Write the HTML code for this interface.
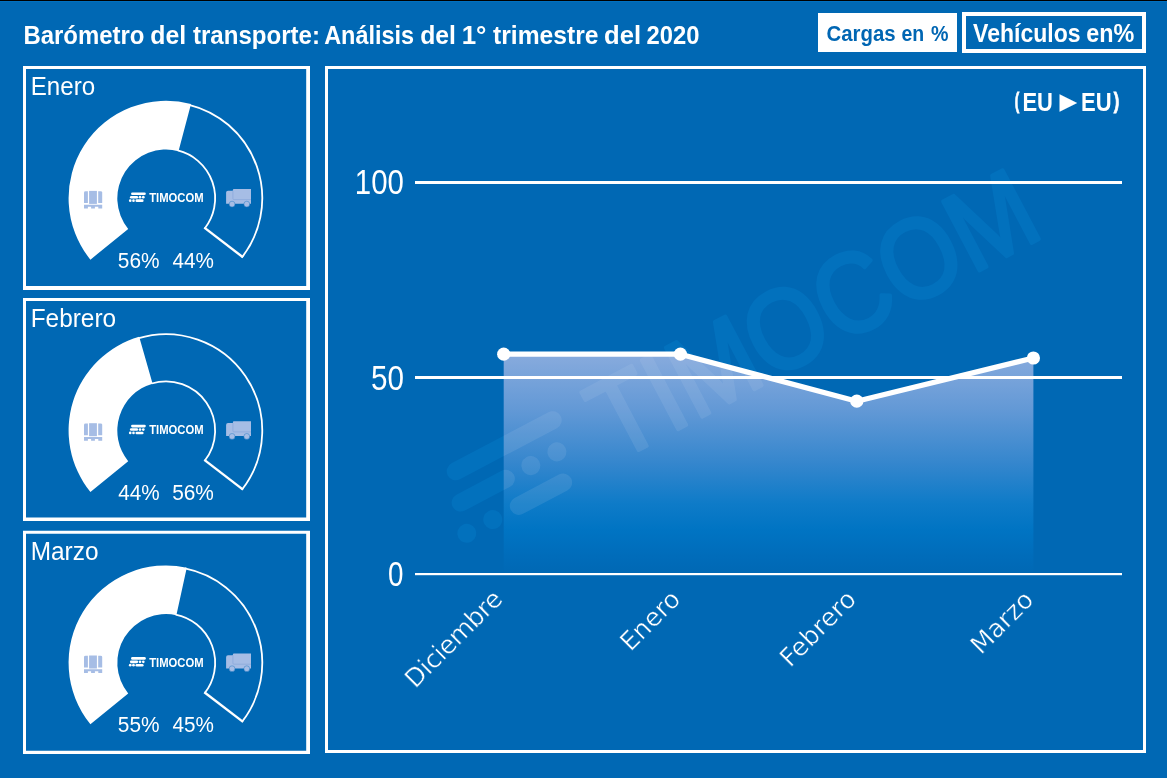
<!DOCTYPE html>
<html lang="es">
<head>
<meta charset="utf-8">
<title>Barómetro del transporte</title>
<style>
html,body{margin:0;padding:0;background:#0068b4;}
body{width:1167px;height:778px;overflow:hidden;}
svg{display:block;font-family:'Liberation Sans', sans-serif;}
</style>
</head>
<body>
<svg width="1167" height="778" viewBox="0 0 1167 778">
<defs>
<linearGradient id="ag" gradientUnits="userSpaceOnUse" x1="0" y1="354" x2="0" y2="574">
<stop offset="0" stop-color="#88abdd"/>
<stop offset="0.25" stop-color="#6399d6"/>
<stop offset="0.5" stop-color="#3486cd"/>
<stop offset="0.68" stop-color="#0e7bc8"/>
<stop offset="0.8" stop-color="#0074c3"/>
<stop offset="0.92" stop-color="#006cba"/>
<stop offset="1" stop-color="#0068b4"/>
</linearGradient>
<pattern id="wp" patternUnits="userSpaceOnUse" x="0" y="0" width="1167" height="778" patternTransform="rotate(27.8) translate(-455.7 -471.3)">
<rect width="1167" height="778" fill="#10b0ff"/>
<path d="M503.7 354.2L680.4 354.2L856.8 401.2L1033.4 358V574H503.7Z" fill="#c4d7ef"/>
</pattern>
<clipPath id="ac"><path d="M503.7 354.2L680.4 354.2L856.8 401.2L1033.4 358V574H503.7Z"/></clipPath>
</defs>
<rect width="1167" height="778" fill="#0068b4"/>
<rect width="1167" height="1" fill="#000"/>
<rect y="1" width="1167" height="1" fill="#0070c0"/>

<g id="header">
<text font-size="26" font-weight="bold" fill="#fff"><tspan x="23.4" y="43.9" textLength="121.08" lengthAdjust="spacingAndGlyphs">Barómetro</tspan> <tspan x="150.32" y="43.9" textLength="35.84" lengthAdjust="spacingAndGlyphs">del</tspan> <tspan x="193.0" y="43.9" textLength="127.0" lengthAdjust="spacingAndGlyphs">transporte:</tspan> <tspan x="324.13" y="43.9" textLength="90.02" lengthAdjust="spacingAndGlyphs">Análisis</tspan> <tspan x="420.13" y="43.9" textLength="35.73" lengthAdjust="spacingAndGlyphs">del</tspan> <tspan x="461.68" y="43.9" textLength="24.77" lengthAdjust="spacingAndGlyphs">1°</tspan> <tspan x="493.0" y="43.9" textLength="105.51" lengthAdjust="spacingAndGlyphs">trimestre</tspan> <tspan x="604.0" y="43.9" textLength="37.01" lengthAdjust="spacingAndGlyphs">del</tspan> <tspan x="646.46" y="43.9" textLength="52.91" lengthAdjust="spacingAndGlyphs">2020</tspan></text>
<rect x="818" y="13" width="139" height="39" fill="#fff"/>
<text font-size="22.5" font-weight="bold" fill="#0066b3"><tspan x="826.56" y="40.8" textLength="69.06" lengthAdjust="spacingAndGlyphs">Cargas</tspan> <tspan x="901.39" y="40.8" textLength="22.75" lengthAdjust="spacingAndGlyphs">en</tspan> <tspan x="930.99" y="40.8" textLength="17.49" lengthAdjust="spacingAndGlyphs">%</tspan></text>
<path fill="#fff" fill-rule="evenodd" d="M962 12H1146V53H962ZM966 16V49H1142V16Z"/>
<text font-size="26" font-weight="bold" fill="#fff"><tspan x="973.1" y="41.9" textLength="107.53" lengthAdjust="spacingAndGlyphs">Vehículos</tspan> <tspan x="1086.27" y="41.9" textLength="48.06" lengthAdjust="spacingAndGlyphs">en%</tspan></text>
</g>
<g id="panel-enero" class="panel">
<path fill="#fff" fill-rule="evenodd" d="M23 66H310V290H23ZM26 69V286.1H306.2V69Z"/>
<text font-size="26" font-weight="normal" fill="#fff"><tspan x="30.72" y="94.9" textLength="64.36" lengthAdjust="spacingAndGlyphs">Enero</tspan></text>
<g fill="none" stroke="#fff" stroke-width="1.8"><path d="M189.08 104.76A96.25 96.25 0 0 1 241.85 257.46"/><path d="M177.79 150.48A49.150000000000006 49.150000000000006 0 0 1 204.73 228.46"/><path stroke-width="2.4" d="M243.03 257.31L204.32 227.60"/></g>
<path d="M90.41 259.63A97.4 97.4 0 0 1 191.01 104.06L178.50 151.13A48.7 48.7 0 0 0 128.21 228.91Z" fill="#fff"/>
<g transform="translate(84 190.9)" fill="#a6bde5"><path d="M0 1.6Q0 0.3 1.6 0.3H3.9V12H0Z"/><rect x="5.1" y="0" width="7.8" height="13"/><path d="M14.2 0.3H16.6Q18.2 0.3 18.2 1.6V12H14.2Z"/><path d="M0 13.8H18.2V17.5H14.3V15.8H10.9V17.5H7.1V15.8H3.9V17.5H0Z"/></g>
<g transform="translate(226.1 189.0)"><path fill="#a6bde5" d="M6.8 1Q6.8 0 7.8 0H24.9V14.8H0V3.6Q0 1.7 1.9 1.7H6.8Z"/><path fill="none" stroke="#8fabdc" stroke-width="0.9" d="M6.8 1.7V9.6Q6.8 10.6 7.8 10.6H24.9"/><circle cx="5.95" cy="15.1" r="2.9" fill="#a6bde5" stroke="#2f7fc4" stroke-width="0.5"/><circle cx="20.7" cy="15.1" r="2.9" fill="#a6bde5" stroke="#2f7fc4" stroke-width="0.5"/></g>
<g transform="translate(132.35 193.81) scale(0.111 0.1138)" fill="#fff"><rect x="-11.5" y="-11.5" width="132.6" height="23.0" rx="11.5" stroke="none"/><rect x="-21.7" y="18.5" width="74.0" height="23.0" rx="11.5" stroke="none"/><circle cx="69.1" cy="30" r="12" stroke="none"/><circle cx="98.6" cy="30" r="12" stroke="none"/><circle cx="-19.1" cy="60" r="12" stroke="none"/><circle cx="10.3" cy="60" r="12" stroke="none"/><rect x="28.200000000000003" y="48.5" width="73.1" height="23.0" rx="11.5" stroke="none"/></g>
<text font-size="13.5" font-weight="bold" fill="#fff"><tspan x="149.2" y="201.9" textLength="54.48" lengthAdjust="spacingAndGlyphs">TIMOCOM</tspan></text>
<text font-size="21.8" font-weight="normal" fill="#fff"><tspan x="117.85" y="267.8" textLength="41.77" lengthAdjust="spacingAndGlyphs">56%</tspan> <tspan x="172.48" y="267.8" textLength="41.44" lengthAdjust="spacingAndGlyphs">44%</tspan></text>
</g>
<g id="panel-febrero" class="panel">
<path fill="#fff" fill-rule="evenodd" d="M23 298H310V521H23ZM26 301V517.6H306.2V301Z"/>
<text font-size="26" font-weight="normal" fill="#fff"><tspan x="30.69" y="326.9" textLength="85.39" lengthAdjust="spacingAndGlyphs">Febrero</tspan></text>
<g fill="none" stroke="#fff" stroke-width="1.8"><path d="M137.90 338.44A96.25 96.25 0 0 1 241.85 489.76"/><path d="M151.65 383.49A49.150000000000006 49.150000000000006 0 0 1 204.73 460.76"/><path stroke-width="2.4" d="M243.03 489.61L204.32 459.90"/></g>
<path d="M90.41 491.93A97.4 97.4 0 0 1 139.19 336.86L152.60 383.68A48.7 48.7 0 0 0 128.21 461.21Z" fill="#fff"/>
<g transform="translate(84 423.2)" fill="#a6bde5"><path d="M0 1.6Q0 0.3 1.6 0.3H3.9V12H0Z"/><rect x="5.1" y="0" width="7.8" height="13"/><path d="M14.2 0.3H16.6Q18.2 0.3 18.2 1.6V12H14.2Z"/><path d="M0 13.8H18.2V17.5H14.3V15.8H10.9V17.5H7.1V15.8H3.9V17.5H0Z"/></g>
<g transform="translate(226.1 421.3)"><path fill="#a6bde5" d="M6.8 1Q6.8 0 7.8 0H24.9V14.8H0V3.6Q0 1.7 1.9 1.7H6.8Z"/><path fill="none" stroke="#8fabdc" stroke-width="0.9" d="M6.8 1.7V9.6Q6.8 10.6 7.8 10.6H24.9"/><circle cx="5.95" cy="15.1" r="2.9" fill="#a6bde5" stroke="#2f7fc4" stroke-width="0.5"/><circle cx="20.7" cy="15.1" r="2.9" fill="#a6bde5" stroke="#2f7fc4" stroke-width="0.5"/></g>
<g transform="translate(132.35 426.11) scale(0.111 0.1138)" fill="#fff"><rect x="-11.5" y="-11.5" width="132.6" height="23.0" rx="11.5" stroke="none"/><rect x="-21.7" y="18.5" width="74.0" height="23.0" rx="11.5" stroke="none"/><circle cx="69.1" cy="30" r="12" stroke="none"/><circle cx="98.6" cy="30" r="12" stroke="none"/><circle cx="-19.1" cy="60" r="12" stroke="none"/><circle cx="10.3" cy="60" r="12" stroke="none"/><rect x="28.200000000000003" y="48.5" width="73.1" height="23.0" rx="11.5" stroke="none"/></g>
<text font-size="13.5" font-weight="bold" fill="#fff"><tspan x="149.2" y="434.2" textLength="54.48" lengthAdjust="spacingAndGlyphs">TIMOCOM</tspan></text>
<text font-size="21.8" font-weight="normal" fill="#fff"><tspan x="118.18" y="500.1" textLength="41.44" lengthAdjust="spacingAndGlyphs">44%</tspan> <tspan x="172.15" y="500.1" textLength="41.77" lengthAdjust="spacingAndGlyphs">56%</tspan></text>
</g>
<g id="panel-marzo" class="panel">
<path fill="#fff" fill-rule="evenodd" d="M23 530.7H310V754H23ZM26 533.7V750.8H306.2V533.7Z"/>
<text font-size="26" font-weight="normal" fill="#fff"><tspan x="30.69" y="560.0" textLength="67.8" lengthAdjust="spacingAndGlyphs">Marzo</tspan></text>
<g fill="none" stroke="#fff" stroke-width="1.8"><path d="M184.87 568.42A96.25 96.25 0 0 1 241.85 722.06"/><path d="M175.63 614.60A49.150000000000006 49.150000000000006 0 0 1 204.73 693.06"/><path stroke-width="2.4" d="M243.03 721.91L204.32 692.20"/></g>
<path d="M90.41 724.23A97.4 97.4 0 0 1 186.76 567.64L176.38 615.22A48.7 48.7 0 0 0 128.21 693.51Z" fill="#fff"/>
<g transform="translate(84 655.5)" fill="#a6bde5"><path d="M0 1.6Q0 0.3 1.6 0.3H3.9V12H0Z"/><rect x="5.1" y="0" width="7.8" height="13"/><path d="M14.2 0.3H16.6Q18.2 0.3 18.2 1.6V12H14.2Z"/><path d="M0 13.8H18.2V17.5H14.3V15.8H10.9V17.5H7.1V15.8H3.9V17.5H0Z"/></g>
<g transform="translate(226.1 653.6)"><path fill="#a6bde5" d="M6.8 1Q6.8 0 7.8 0H24.9V14.8H0V3.6Q0 1.7 1.9 1.7H6.8Z"/><path fill="none" stroke="#8fabdc" stroke-width="0.9" d="M6.8 1.7V9.6Q6.8 10.6 7.8 10.6H24.9"/><circle cx="5.95" cy="15.1" r="2.9" fill="#a6bde5" stroke="#2f7fc4" stroke-width="0.5"/><circle cx="20.7" cy="15.1" r="2.9" fill="#a6bde5" stroke="#2f7fc4" stroke-width="0.5"/></g>
<g transform="translate(132.35 658.41) scale(0.111 0.1138)" fill="#fff"><rect x="-11.5" y="-11.5" width="132.6" height="23.0" rx="11.5" stroke="none"/><rect x="-21.7" y="18.5" width="74.0" height="23.0" rx="11.5" stroke="none"/><circle cx="69.1" cy="30" r="12" stroke="none"/><circle cx="98.6" cy="30" r="12" stroke="none"/><circle cx="-19.1" cy="60" r="12" stroke="none"/><circle cx="10.3" cy="60" r="12" stroke="none"/><rect x="28.200000000000003" y="48.5" width="73.1" height="23.0" rx="11.5" stroke="none"/></g>
<text font-size="13.5" font-weight="bold" fill="#fff"><tspan x="149.2" y="666.5" textLength="54.48" lengthAdjust="spacingAndGlyphs">TIMOCOM</tspan></text>
<text font-size="21.8" font-weight="normal" fill="#fff"><tspan x="117.85" y="732.4" textLength="41.77" lengthAdjust="spacingAndGlyphs">55%</tspan> <tspan x="172.48" y="732.4" textLength="41.44" lengthAdjust="spacingAndGlyphs">45%</tspan></text>
</g>
<g id="chart">
<path fill="#fff" fill-rule="evenodd" d="M325 66H1146V753H325ZM328 69V750H1143V69Z"/>
<rect x="500" y="350" width="540" height="226" fill="url(#ag)" clip-path="url(#ac)"/>
<g transform="translate(455.7 471.3) rotate(-27.8)" opacity="0.12" fill="url(#wp)" stroke="url(#wp)"><rect x="-9" y="-9" width="127.6" height="18" rx="9" stroke="none"/><rect x="-19.2" y="21" width="69.0" height="18" rx="9" stroke="none"/><circle cx="69.1" cy="30" r="9.5" stroke="none"/><circle cx="98.6" cy="30" r="9.5" stroke="none"/><circle cx="-19.1" cy="60" r="9.5" stroke="none"/><circle cx="10.3" cy="60" r="9.5" stroke="none"/><rect x="30.700000000000003" y="51" width="68.1" height="18" rx="9" stroke="none"/><text x="145.5" y="66.5" font-size="113" font-weight="normal" stroke-width="4" stroke-linejoin="round" textLength="487" lengthAdjust="spacingAndGlyphs">TIMOCOM</text></g>
<rect x="415" y="181" width="707" height="3" fill="#fff"/>
<rect x="415" y="376" width="707" height="3" fill="#fff"/>
<rect x="415" y="573" width="707" height="2.2" fill="#fff"/>
<text font-size="35" font-weight="normal" fill="#fff"><tspan x="354.86" y="194.2" textLength="49.07" lengthAdjust="spacingAndGlyphs">100</tspan></text>
<text font-size="35" font-weight="normal" fill="#fff"><tspan x="370.97" y="389.8" textLength="32.96" lengthAdjust="spacingAndGlyphs">50</tspan></text>
<text font-size="35" font-weight="normal" fill="#fff"><tspan x="388.03" y="586.1" textLength="15.46" lengthAdjust="spacingAndGlyphs">0</tspan></text>
<polyline points="503.7,354.2 680.4,354.2 856.8,401.2 1033.4,358" fill="none" stroke="#fff" stroke-width="5.3" stroke-linejoin="round" stroke-linecap="round"/>
<circle cx="503.7" cy="354.2" r="6.6" fill="#fff"/>
<circle cx="680.4" cy="354.2" r="6.6" fill="#fff"/>
<circle cx="856.8" cy="401.2" r="6.6" fill="#fff"/>
<circle cx="1033.4" cy="358" r="6.6" fill="#fff"/>
<text transform="translate(504.0 600.5) rotate(-45)" font-family="'DejaVu Sans', 'Liberation Sans', sans-serif" font-size="25.3" fill="#fff" stroke="#0068b4" stroke-width="0.45" text-anchor="end" textLength="125.4" lengthAdjust="spacing">Diciembre</text>
<text transform="translate(682.0 600.7) rotate(-45)" font-family="'DejaVu Sans', 'Liberation Sans', sans-serif" font-size="25.3" fill="#fff" stroke="#0068b4" stroke-width="0.45" text-anchor="end">Enero</text>
<text transform="translate(857.7 600.7) rotate(-45)" font-family="'DejaVu Sans', 'Liberation Sans', sans-serif" font-size="25.3" fill="#fff" stroke="#0068b4" stroke-width="0.45" text-anchor="end">Febrero</text>
<text transform="translate(1035.0 601.4) rotate(-45)" font-family="'DejaVu Sans', 'Liberation Sans', sans-serif" font-size="25.3" fill="#fff" stroke="#0068b4" stroke-width="0.45" text-anchor="end">Marzo</text>
<text font-size="25" font-weight="bold" fill="#fff"><tspan x="1014.77" y="108.3" font-size="21.6" stroke="#fff" stroke-width="0.8" textLength="4.49" lengthAdjust="spacingAndGlyphs">(</tspan><tspan x="1022.43" y="110.6" textLength="30.47" lengthAdjust="spacingAndGlyphs">EU</tspan> <tspan x="1059.4" y="108.55" font-size="22.8" font-weight="normal" font-family="'DejaVu Sans', 'Liberation Sans', sans-serif" textLength="17.72" lengthAdjust="spacingAndGlyphs">▶</tspan> <tspan x="1081.12" y="110.6" textLength="30.58" lengthAdjust="spacingAndGlyphs">EU</tspan><tspan x="1113.8" y="108.3" font-size="21.6" stroke="#fff" stroke-width="0.8" textLength="5.5" lengthAdjust="spacingAndGlyphs">)</tspan></text>
</g>
</svg>
</body>
</html>
